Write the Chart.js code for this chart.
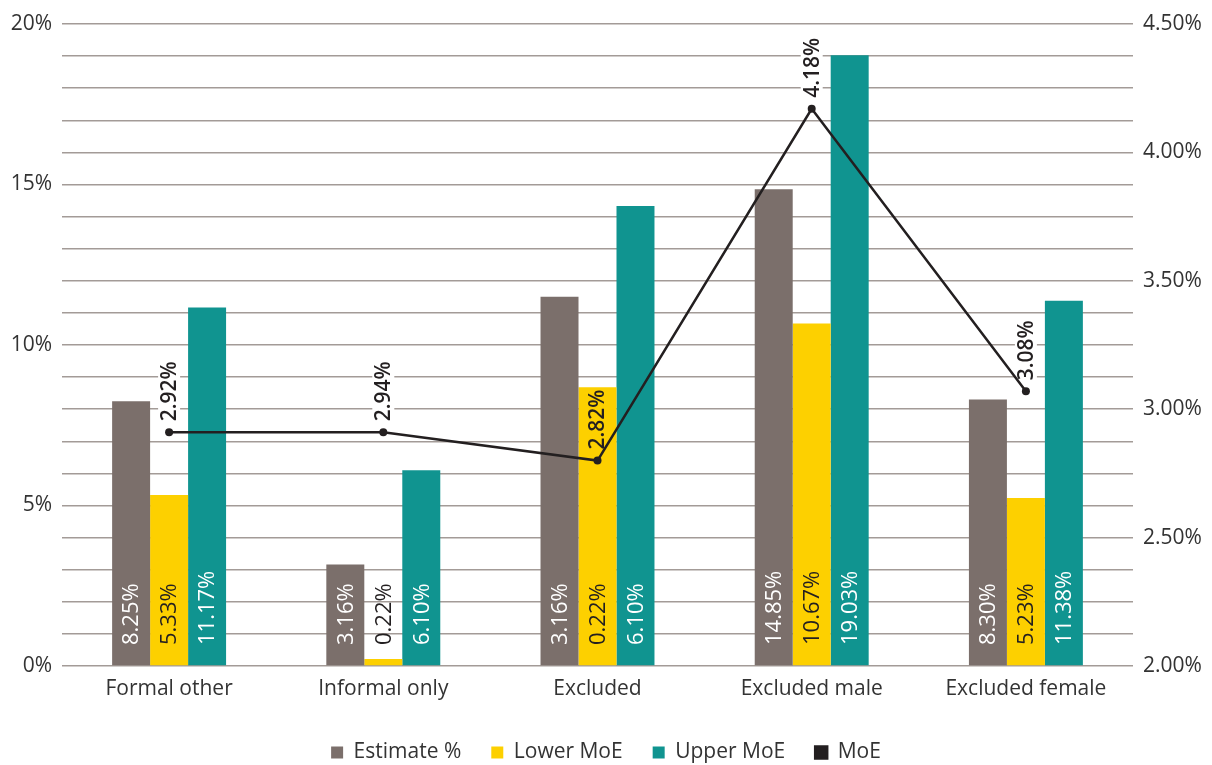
<!DOCTYPE html>
<html>
<head>
<meta charset="utf-8">
<script src="https://cdn.jsdelivr.net/npm/chart.js@4/dist/chart.umd.min.js"></script>
<style>
  html, body { margin: 0; padding: 0; background: #fff; }
  #wrap { width: 1212px; height: 765px; position: relative; }
</style>
</head>
<body>
<div id="wrap"><canvas id="c"></canvas></div>
<script>
// ---- data ----
const categories = ['Formal other', 'Informal only', 'Excluded', 'Excluded male', 'Excluded female'];
const estimate = [8.25, 3.16, 11.5, 14.85, 8.30];
const lowerMoE = [5.33, 0.22, 8.68, 10.67, 5.23];
const upperMoE = [11.17, 6.10, 14.33, 19.03, 11.38];
const moe = [2.91, 2.91, 2.80, 4.17, 3.07];
const estimateLabels = ['8.25%', '3.16%', '3.16%', '14.85%', '8.30%'];
const lowerLabels = ['5.33%', '0.22%', '0.22%', '10.67%', '5.23%'];
const upperLabels = ['11.17%', '6.10%', '6.10%', '19.03%', '11.38%'];
const moeLabels = ['2.92%', '2.94%', '2.82%', '4.18%', '3.08%'];
const leftTicks = [0, 5, 10, 15, 20];
const rightTicks = [2.0, 2.5, 3.0, 3.5, 4.0, 4.5];

const FONT = "'Open Sans', 'Noto Sans', sans-serif";
const TEXT = '#333333';

const labelPlugin = {
  id: 'valueLabels',
  beforeDatasetsDraw(chart) {
    const ctx = chart.ctx;
    const meta = chart.getDatasetMeta(3);
    ctx.save();
    ctx.font = `600 21px ${FONT}`;
    meta.data.forEach((pt, i) => {
      const w = ctx.measureText(moeLabels[i]).width;
      ctx.fillStyle = '#ffffff';
      ctx.fillRect(pt.x - 11, pt.y - 11 - w - 4, 22, w + 8);
    });
    ctx.restore();
  },
  afterDatasetsDraw(chart) {
    const ctx = chart.ctx;
    const base = chart.scales.y.getPixelForValue(0);
    const sets = [
      { idx: 0, labels: estimateLabels, color: '#ffffff' },
      { idx: 1, labels: lowerLabels, color: '#231f20' },
      { idx: 2, labels: upperLabels, color: '#ffffff' }
    ];
    ctx.save();
    ctx.font = `400 22px ${FONT}`;
    ctx.textAlign = 'left';
    ctx.textBaseline = 'middle';
    sets.forEach(s => {
      chart.getDatasetMeta(s.idx).data.forEach((bar, i) => {
        ctx.save();
        ctx.translate(bar.x + 1, base - 21);
        ctx.rotate(-Math.PI / 2);
        ctx.fillStyle = s.color;
        ctx.fillText(s.labels[i], 0, 0);
        ctx.restore();
      });
    });
    ctx.font = `600 21px ${FONT}`;
    chart.getDatasetMeta(3).data.forEach((pt, i) => {
      ctx.save();
      ctx.translate(pt.x + 1, pt.y - 11);
      ctx.rotate(-Math.PI / 2);
      ctx.fillStyle = '#231f20';
      ctx.fillText(moeLabels[i], 0, 0);
      ctx.restore();
    });
    ctx.restore();
  }
};

new Chart(document.getElementById('c'), {
  type: 'bar',
  data: {
    labels: categories,
    datasets: [
      { label: 'Estimate %', data: estimate, backgroundColor: '#7b6f6b', yAxisID: 'y' },
      { label: 'Lower MoE', data: lowerMoE, backgroundColor: '#fdd000', yAxisID: 'y' },
      { label: 'Upper MoE', data: upperMoE, backgroundColor: '#109490', yAxisID: 'y' },
      { label: 'MoE', type: 'line', data: moe, yAxisID: 'y1', order: -1,
        borderColor: '#231f20', backgroundColor: '#231f20', borderWidth: 2.5,
        pointRadius: 4, pointBackgroundColor: '#231f20', pointBorderWidth: 0, tension: 0 }
    ]
  },
  options: {
    responsive: true,
    maintainAspectRatio: false,
    animation: false,
    layout: { padding: { top: 24, left: 0, right: 0, bottom: -8 } },
    datasets: { bar: { barPercentage: 1.0, categoryPercentage: 0.532 } },
    plugins: {
      tooltip: { enabled: false },
      legend: {
        position: 'bottom',
        labels: {
          font: { family: FONT, size: 21 },
          color: TEXT,
          boxWidth: 12,
          boxHeight: 12,
          padding: 30,
          sort: (a, b) => a.datasetIndex - b.datasetIndex
        }
      }
    },
    scales: {
      x: {
        grid: { display: false, drawTicks: false },
        border: { display: false },
        ticks: { font: { family: FONT, size: 21 }, color: TEXT, padding: 10 },
        afterFit(scale) { scale.height = 46; }
      },
      y: {
        position: 'left',
        min: 0, max: 20,
        grid: { color: '#a39b97', lineWidth: 1.6, drawTicks: false },
        border: { display: false },
        ticks: {
          stepSize: 1, autoSkip: false,
          font: { family: FONT, size: 21 }, color: TEXT, padding: 10,
          callback: v => leftTicks.includes(v) ? v + '%' : ''
        },
        afterFit(scale) { scale.width = 62; }
      },
      y1: {
        position: 'right',
        min: 2.0, max: 4.5,
        grid: { display: false, drawTicks: false },
        border: { display: false },
        ticks: {
          stepSize: 0.5, autoSkip: false,
          font: { family: FONT, size: 21 }, color: TEXT, padding: 10,
          callback: v => rightTicks.some(t => Math.abs(t - v) < 1e-6) ? v.toFixed(2) + '%' : ''
        },
        afterFit(scale) { scale.width = 79; }
      }
    }
  },
  plugins: [labelPlugin]
});
</script>
</body>
</html>
